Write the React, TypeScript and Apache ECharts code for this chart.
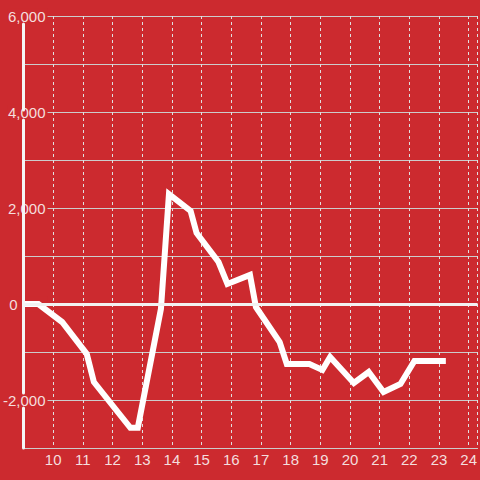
import React, { useEffect, useRef } from "react";
import * as echarts from "echarts";

const xValues = [9.0, 9.5, 10.3, 11.13, 11.37, 12.6, 12.85, 13.63, 13.9, 14.63, 14.83, 15.57, 15.87, 16.63, 16.83, 17.63, 17.87, 18.63, 19.07, 19.33, 20.13, 20.63, 21.13, 21.7, 22.17, 23.23];
const yValues = [0, 0, -375, -1040, -1625, -2580, -2580, -100, 2290, 1940, 1480, 875, 417, 604, -63, -792, -1250, -1250, -1375, -1104, -1646, -1417, -1833, -1667, -1188, -1188];

const BG = "#cc2a2f";
const LABEL = "#f4dede";

export default function App() {
  const ref = useRef<HTMLDivElement>(null);
  useEffect(() => {
    if (!ref.current) return;
    const chart = echarts.init(ref.current, null, { renderer: "svg" });
    const data = xValues.map((x, i) => [x, yValues[i]]);
    chart.setOption({
      animation: false,
      backgroundColor: BG,
      grid: { left: 21, top: 16, right: 0, bottom: 32, containLabel: false },
      xAxis: {
        type: "value",
        min: 9,
        max: 24.3,
        interval: 1,
        axisLine: { show: true, onZero: false, lineStyle: { color: "#cccccc", width: 1 } },
        axisTick: { show: false },
        axisLabel: {
          show: true,
          showMinLabel: false,
          showMaxLabel: false,
          color: LABEL,
          fontSize: 15,
          fontFamily: "Liberation Sans, Arial, sans-serif",
          margin: 4,
        },
        splitLine: { show: true, lineStyle: { color: "#e0e0e0", width: 1, type: [3, 3] } },
      },
      yAxis: [
        {
          type: "value",
          min: -3000,
          max: 6000,
          interval: 1000,
          position: "left",
          axisLine: { show: false },
          axisTick: { show: false },
          axisLabel: {
            show: true,
            align: "right",
            margin: -24,
            color: LABEL,
            fontSize: 15,
            fontFamily: "Liberation Sans, Arial, sans-serif",
            backgroundColor: BG,
            padding: [0, 2, 0, 0],
            formatter: (v: number) => {
              if (v % 2000 !== 0) return "";
              if (v === 0) return "{z|0}";
              return v.toLocaleString("en-US");
            },
            rich: {
              z: { color: LABEL, fontSize: 15, fontFamily: "Liberation Sans, Arial, sans-serif", padding: [0, 28, 0, 0] },
            },
          },
          splitLine: { show: true, lineStyle: { color: "#cccccc", width: 1 } },
        },
        {
          type: "value",
          min: -3000,
          max: 6000,
          position: "left",
          z: 5,
          axisLine: {
            show: true,
            lineStyle: { color: "#f5f5f5", width: 3, type: [40, 15, 273, 10, 86, 8] },
          },
          axisTick: { show: false },
          axisLabel: { show: false },
          splitLine: { show: false },
        },
      ],
      series: [
        {
          type: "line",
          data,
          yAxisIndex: 0,
          showSymbol: false,
          symbol: "none",
          lineStyle: { color: "#ffffff", width: 6, join: "miter", cap: "butt" },
          markLine: {
            silent: true,
            symbol: "none",
            label: { show: false },
            lineStyle: { color: "#f2f2f2", width: 3, type: "solid" },
            data: [{ yAxis: 0 }],
          },
        },
      ],
    });
    return () => chart.dispose();
  }, []);
  return <div ref={ref} style={{ width: 480, height: 480, position: "absolute", left: 0, top: 0 }} />;
}
